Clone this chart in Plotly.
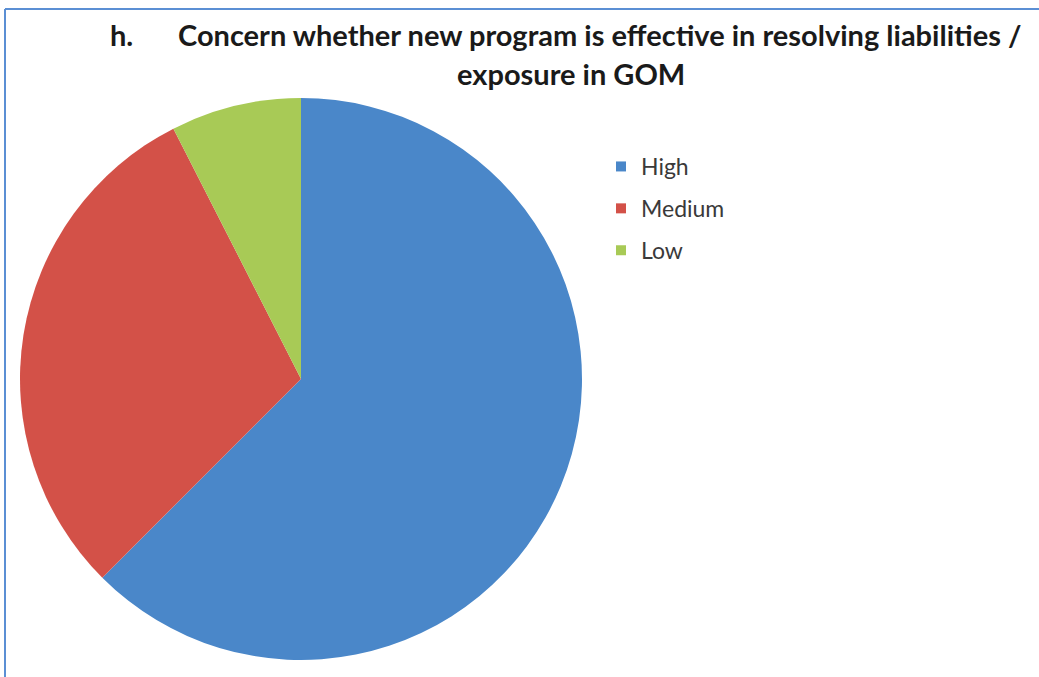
import plotly.graph_objects as go

# Data
categories = ["High", "Medium", "Low"]
values = [25, 12, 3]
colors = ["#4a87c9", "#d35148", "#a8ca56"]

title_prefix = "h."
title_line1 = "Concern whether new program is effective in resolving liabilities /"
title_line2 = "exposure in GOM"

W, H = 1039, 677

fig = go.Figure()

fig.add_trace(go.Pie(
    labels=categories,
    values=values,
    marker=dict(colors=colors, line=dict(width=0)),
    sort=False,
    direction="clockwise",
    rotation=0,
    textinfo="none",
    hoverinfo="label+value+percent",
    showlegend=False,
    domain=dict(x=[20 / W, 582 / W], y=[1 - 660 / H, 1 - 98 / H]),
))

# legend entries (one group each so spacing can be controlled)
for cat, col in zip(categories, colors):
    fig.add_trace(go.Scatter(
        x=[None], y=[None], mode="markers", name=cat,
        legendgroup=cat,
        marker=dict(symbol="square", size=10, color=col),
        showlegend=True,
    ))

TITLE_FONT = dict(family="Lato, sans-serif", size=29, color="#1a1a1a")

fig.update_layout(
    width=W, height=H,
    margin=dict(l=0, r=0, t=0, b=0),
    paper_bgcolor="white",
    plot_bgcolor="white",
    xaxis=dict(visible=False),
    yaxis=dict(visible=False),
    font=dict(family="Lato, sans-serif"),
    legend=dict(
        x=601 / W, y=1 - 145 / H, xanchor="left", yanchor="top",
        font=dict(family="Lato, sans-serif", size=23, color="#3a3a3a"),
        tracegroupgap=9,
        bgcolor="rgba(0,0,0,0)",
    ),
    annotations=[
        dict(text=f"<b>{title_prefix}</b>", x=108 / W, y=1 - 35 / H, xref="paper", yref="paper",
             xanchor="left", yanchor="middle", showarrow=False, font=TITLE_FONT),
        dict(text=f"<b>{title_line1}</b>", x=176 / W, y=1 - 35 / H, xref="paper", yref="paper",
             xanchor="left", yanchor="middle", showarrow=False, font=TITLE_FONT),
        dict(text=f"<b>{title_line2}</b>", x=571 / W, y=1 - 74 / H, xref="paper", yref="paper",
             xanchor="center", yanchor="middle", showarrow=False, font=TITLE_FONT),
    ],
    shapes=[
        dict(type="line", xref="paper", yref="paper", x0=5 / W, x1=1.01, y0=1 - 9 / H, y1=1 - 9 / H,
             line=dict(color="#5b8fd4", width=2)),
        dict(type="line", xref="paper", yref="paper", x0=5 / W, x1=5 / W, y0=1 - 9 / H, y1=-0.01,
             line=dict(color="#5b8fd4", width=2)),
    ],
)

fig.write_html("out.html", config={"displayModeBar": False},
               post_script="document.body.style.margin='0';")
